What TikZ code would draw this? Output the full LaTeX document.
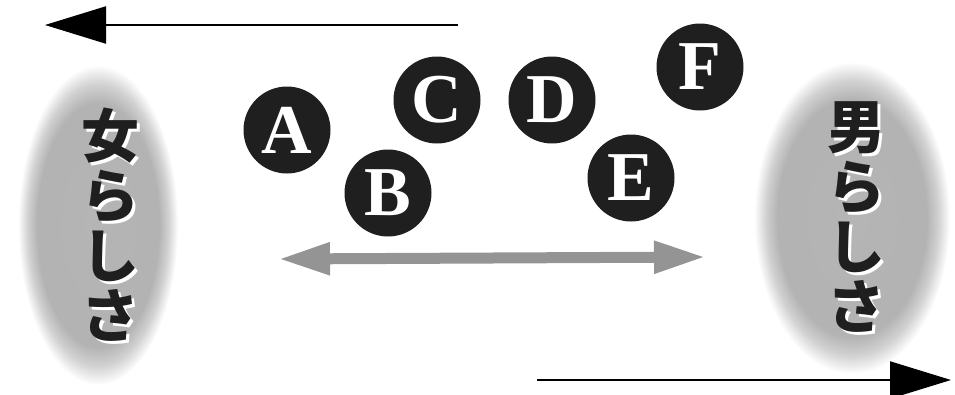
\documentclass[tikz,border=0pt]{standalone}
\usepackage{fontspec}
\setmainfont{Liberation Serif}
\newfontfamily\cjk{Noto Sans CJK JP}
\usetikzlibrary{arrows.meta}

% soft grey oval: flat grey in the middle, fading to white at the rim
% (the rim of the filled path sits at 25bp of the shading)
\pgfdeclareradialshading{ovalglow}{\pgfpoint{0bp}{0bp}}{%
  color(0bp)=(black!29); color(19bp)=(black!30); color(22bp)=(black!18);
  color(25bp)=(white); color(50bp)=(white)}

\tikzset{
  letterdisc/.style={circle, fill=black!88, minimum size=87pt, inner sep=0pt,
    text=white, font=\fontsize{70}{70}\selectfont\bfseries},
  blackarrow/.style={line width=2.2pt, black,
    -{Triangle[length=61pt, width=37pt]}},
  greyarrow/.style={line width=11pt, black!42,
    {Triangle[length=52pt, width=30pt]}-{Triangle[length=52pt, width=30pt]}},
  oval/.style={shading=ovalglow},
  vlabel/.style={align=center, inner sep=0pt,
    font=\cjk\bfseries\fontsize{58}{60}\selectfont},
}

\newcommand{\shadowlabel}[3]{%
  \node[vlabel, text=white] at ([shift={(3pt,-3pt)}]#1) {#3};
  \node[vlabel, text=black!88] (#2) at (#1) {#3};}

\begin{document}
\begin{tikzpicture}[x=1pt, y=-1pt]
  \useasboundingbox (0,0) rectangle (955,394);

  % the two poles
  \shade[oval] (98,225) ellipse [x radius=80, y radius=160];
  \shade[oval] (852,218) ellipse [x radius=98, y radius=156];

  \coordinate (fem) at (110,225);
  \coordinate (masc) at (856,217);
  \shadowlabel{fem}{femlabel}{女\\ら\\し\\さ}
  \shadowlabel{masc}{masclabel}{男\\ら\\し\\さ}

  % direction arrows
  \coordinate (topstart) at (458,25);
  \coordinate (topend) at (45,25);
  \draw[blackarrow] (topstart) -- (topend);
  \coordinate (botstart) at (537,380);
  \coordinate (botend) at (951,380);
  \draw[blackarrow] (botstart) -- (botend);

  % positions on the scale
  \node[letterdisc] (A) at (287,130) {A};
  \node[letterdisc] (B) at (388,193) {B};
  \node[letterdisc] (C) at (437,100) {C};
  \node[letterdisc] (D) at (552,100) {D};
  \node[letterdisc] (E) at (631,178) {E};
  \node[letterdisc] (F) at (700,67) {F};

  % the scale between the poles
  \coordinate (scaleL) at (278,259);
  \coordinate (scaleR) at (706,257);
  \draw[greyarrow] (scaleL) -- (scaleR);
\end{tikzpicture}
\end{document}
